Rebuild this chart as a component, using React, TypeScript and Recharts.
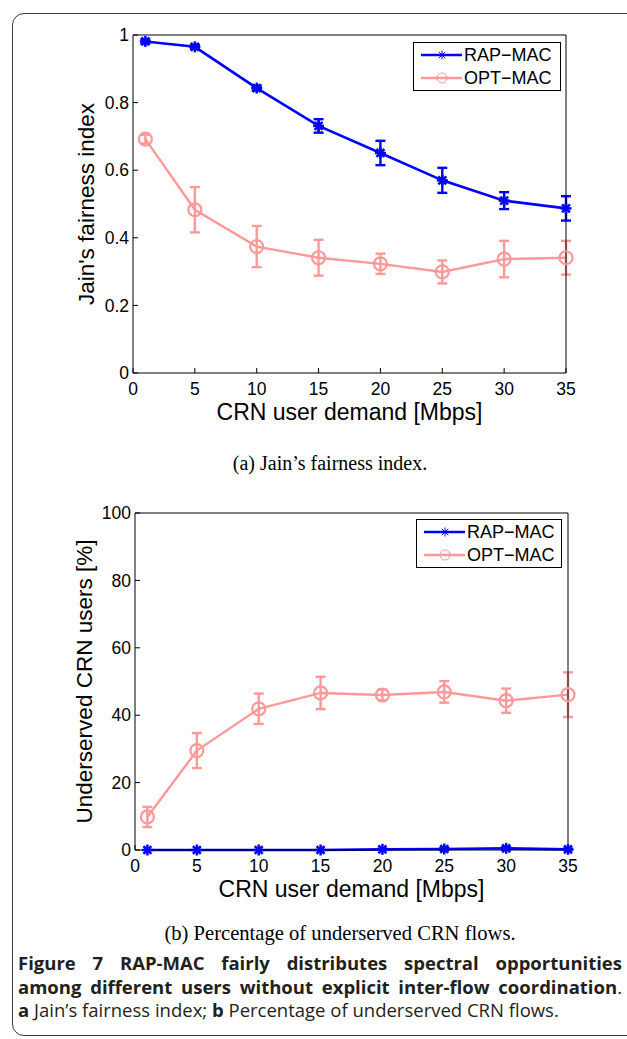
import { LineChart, Line, XAxis, YAxis, ErrorBar, Legend } from "recharts";

const demand = [1, 5, 10, 15, 20, 25, 30, 35];
const demandTicks = [0, 5, 10, 15, 20, 25, 30, 35];

const fairnessTicks = [0, 0.2, 0.4, 0.6, 0.8, 1];
const fairnessRap = [0.981, 0.965, 0.843, 0.731, 0.651, 0.57, 0.51, 0.487];
const fairnessRapErr = [0.006, 0.006, 0.007, 0.02, 0.036, 0.037, 0.025, 0.036];
const fairnessOpt = [0.692, 0.483, 0.374, 0.341, 0.323, 0.299, 0.337, 0.341];
const fairnessOptErr = [0.013, 0.067, 0.061, 0.053, 0.03, 0.034, 0.054, 0.05];

const underservedTicks = [0, 20, 40, 60, 80, 100];
const underservedRap = [0, 0, 0, 0, 0.2, 0.3, 0.5, 0.2];
const underservedRapErr = [0, 0, 0, 0, 0.2, 0.3, 0.4, 0.2];
const underservedOpt = [9.8, 29.5, 41.9, 46.6, 46.0, 46.9, 44.3, 46.1];
const underservedOptErr = [3.0, 5.2, 4.5, 4.8, 1.6, 3.2, 3.6, 6.6];

const BLUE = "#0000ff";
const PINK = "#ff9999";
const SANS = '"Liberation Sans", Arial, Helvetica, sans-serif';
const SERIF = '"Liberation Serif", "Times New Roman", serif';
const CAPTION = '"Open Sans", "Noto Sans", sans-serif';

// matlab-style '*' marker
function Asterisk({ cx, cy, r = 5.5, sw = 2.5 }: { cx: number; cy: number; r?: number; sw?: number }) {
  const d = r * 0.72;
  return (
    <g stroke={BLUE} strokeWidth={sw} strokeLinecap="butt">
      <line x1={cx - r} y1={cy} x2={cx + r} y2={cy} />
      <line x1={cx} y1={cy - r} x2={cx} y2={cy + r} />
      <line x1={cx - d} y1={cy - d} x2={cx + d} y2={cy + d} />
      <line x1={cx - d} y1={cy + d} x2={cx + d} y2={cy - d} />
    </g>
  );
}

function Ring({ cx, cy, r = 6.5, sw = 2.2 }: { cx: number; cy: number; r?: number; sw?: number }) {
  return <circle cx={cx} cy={cy} r={r} fill="none" stroke={PINK} strokeWidth={sw} />;
}

function LegendBox({ width, height }: { width: number; height: number }) {
  const rows = [
    { name: "RAP\u2212MAC", color: BLUE, mark: (y: number) => <Asterisk cx={28} cy={y} r={4.5} sw={1} /> },
    { name: "OPT\u2212MAC", color: PINK, mark: (y: number) => <Ring cx={28} cy={y} r={5} sw={1} /> },
  ];
  return (
    <div
      style={{
        width,
        height,
        boxSizing: "border-box",
        border: "1px solid #000",
        background: "#fff",
        position: "relative",
        fontFamily: SANS,
        fontSize: 18,
        color: "#000",
      }}
    >
      {rows.map((row, i) => (
        <div
          key={row.name}
          style={{ position: "absolute", left: 0, top: 1 + i * 22.5, height: 22, display: "flex", alignItems: "center" }}
        >
          <svg width={50} height={22} style={{ display: "block" }}>
            <line x1={7} x2={48} y1={11} y2={11} stroke={row.color} strokeWidth={2.5} />
            {row.mark(11)}
          </svg>
          <span style={{ lineHeight: "22px" }}>{row.name}</span>
        </div>
      ))}
    </div>
  );
}

type PanelProps = {
  rap: number[];
  rapErr: number[];
  opt: number[];
  optErr: number[];
  yTicks: number[];
  yLabel: string;
  yLabelX: number;
  margin: { top: number; right: number; bottom: number; left: number };
  legend: { left: number; top: number; width: number; height: number };
};

function Panel({ rap, rapErr, opt, optErr, yTicks, yLabel, yLabelX, margin, legend }: PanelProps) {
  const data = demand.map((x, i) => ({
    x,
    rap: rap[i],
    rapErr: rapErr[i],
    opt: opt[i],
    optErr: optErr[i],
  }));
  const yMax = yTicks[yTicks.length - 1];
  const tickStyle = { fill: "#000", fontSize: 17.5, fontFamily: SANS };
  const yLabelStyle = { fill: "#000", fontSize: 22.5, fontFamily: SANS };
  const xLabelStyle = { fill: "#000", fontSize: 23, fontFamily: SANS };

  return (
    <LineChart width={627} height={440} data={data} margin={margin}>
      <XAxis
        dataKey="x"
        type="number"
        domain={[0, 35]}
        ticks={demandTicks}
        tickSize={-5}
        tickMargin={15}
        height={50}
        stroke="#000"
        tick={tickStyle}
        label={{
          content: (p: any) => {
            const vb = p.viewBox;
            return (
              <text
                x={vb.x + vb.width / 2}
                y={vb.y + 39}
                textAnchor="middle"
                dominantBaseline="central"
                style={xLabelStyle}
              >
                CRN user demand [Mbps]
              </text>
            );
          },
        }}
      />
      <XAxis
        xAxisId="top"
        orientation="top"
        type="number"
        domain={[0, 35]}
        ticks={demandTicks}
        tickSize={-5}
        height={1}
        tick={false}
        stroke="#000"
      />
      <YAxis
        type="number"
        domain={[0, yMax]}
        ticks={yTicks}
        tickSize={-5}
        tickMargin={9}
        width={60}
        stroke="#000"
        tick={tickStyle}
        label={{
          content: (p: any) => {
            const vb = p.viewBox;
            const cx = yLabelX;
            const cy = vb.y + vb.height / 2;
            return (
              <text
                x={cx}
                y={cy}
                transform={`rotate(-90 ${cx} ${cy})`}
                textAnchor="middle"
                dominantBaseline="central"
                style={yLabelStyle}
              >
                {yLabel}
              </text>
            );
          },
        }}
      />
      <YAxis
        yAxisId="right"
        orientation="right"
        type="number"
        domain={[0, yMax]}
        ticks={yTicks}
        tickSize={-5}
        width={1}
        tick={false}
        stroke="#000"
      />
      <Legend
        layout="horizontal"
        verticalAlign="middle"
        align="center"
        wrapperStyle={{ left: legend.left, top: legend.top, width: legend.width, height: legend.height }}
        content={() => <LegendBox width={legend.width} height={legend.height} />}
      />
      <Line
        dataKey="rap"
        stroke={BLUE}
        strokeWidth={2.6}
        isAnimationActive={false}
        dot={(p: any) => <Asterisk key={`r${p.index}`} cx={p.cx} cy={p.cy} />}
        activeDot={false}
      >
        <ErrorBar dataKey="rapErr" width={5} stroke={BLUE} strokeWidth={2.4} direction="y" isAnimationActive={false} />
      </Line>
      <Line
        dataKey="opt"
        stroke={PINK}
        strokeWidth={2.4}
        isAnimationActive={false}
        dot={(p: any) => <Ring key={`o${p.index}`} cx={p.cx} cy={p.cy} />}
        activeDot={false}
      >
        <ErrorBar dataKey="optErr" width={5} stroke={PINK} strokeWidth={2.4} direction="y" isAnimationActive={false} />
      </Line>
    </LineChart>
  );
}

const subCaption = {
  position: "absolute" as const,
  width: 500,
  textAlign: "center" as const,
  fontFamily: SERIF,
  lineHeight: "24px",
  color: "#000",
  whiteSpace: "nowrap" as const,
};

export default function App() {
  return (
    <div
      style={{
        position: "absolute",
        left: 0,
        top: 0,
        width: 627,
        height: 1039,
        background: "#fff",
        overflow: "hidden",
      }}
    >
      <div
        style={{
          position: "absolute",
          left: 12,
          top: 13,
          width: 660,
          height: 1021,
          border: "1.5px solid #3a3a3a",
          borderRadius: 12,
        }}
      />
      <div style={{ position: "absolute", left: 0, top: 0 }}>
        <Panel
          rap={fairnessRap}
          rapErr={fairnessRapErr}
          opt={fairnessOpt}
          optErr={fairnessOptErr}
          yTicks={fairnessTicks}
          yLabel="Jain's fairness index"
          yLabelX={86}
          margin={{ top: 34, right: 60, bottom: 17, left: 73 }}
          legend={{ left: 413, top: 42, width: 148, height: 49 }}
        />
      </div>
      <div style={{ ...subCaption, fontSize: 20, left: 80, top: 451 }}>(a) Jain’s fairness index.</div>
      <div style={{ position: "absolute", left: 0, top: 480 }}>
        <Panel
          rap={underservedRap}
          rapErr={underservedRapErr}
          opt={underservedOpt}
          optErr={underservedOptErr}
          yTicks={underservedTicks}
          yLabel="Underserved CRN users [%]"
          yLabelX={84}
          margin={{ top: 32, right: 58, bottom: 20, left: 75 }}
          legend={{ left: 416, top: 39, width: 146, height: 49 }}
        />
      </div>
      <div style={{ ...subCaption, fontSize: 20.6, left: 90, top: 921 }}>(b) Percentage of underserved CRN flows.</div>
      <div
        style={{
          position: "absolute",
          left: 18,
          top: 951,
          width: 604,
          fontFamily: CAPTION,
          fontSize: 18.5,
          lineHeight: "23.5px",
          color: "#231f20",
        }}
      >
        <div style={{ textAlign: "justify", textAlignLast: "justify", fontWeight: 700 }}>
          Figure 7 RAP-MAC fairly distributes spectral opportunities
        </div>
        <div style={{ textAlign: "justify", textAlignLast: "justify" }}>
          <b>among different users without explicit inter-flow coordination</b>.
        </div>
        <div>
          <b>a</b> Jain’s fairness index; <b>b</b> Percentage of underserved CRN flows.
        </div>
      </div>
    </div>
  );
}
